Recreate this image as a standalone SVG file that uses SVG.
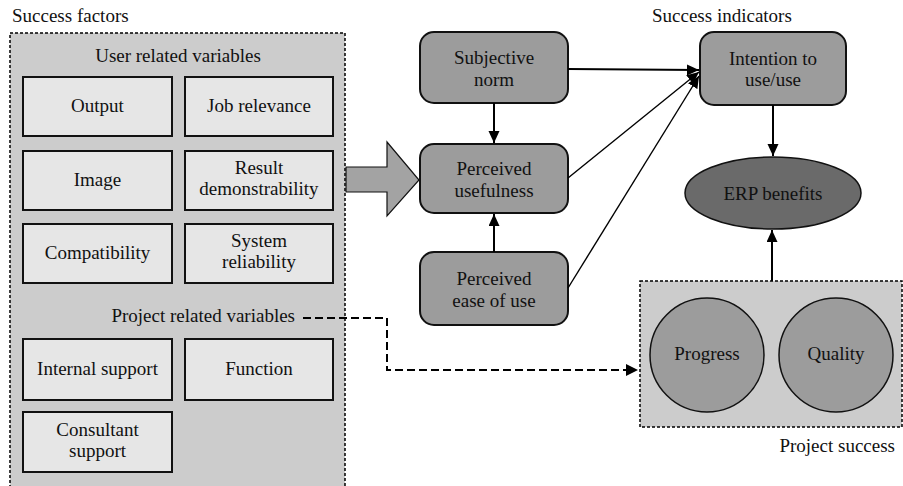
<svg xmlns="http://www.w3.org/2000/svg" width="903" height="486" viewBox="0 0 903 486" font-family="'Liberation Serif', 'DejaVu Serif', serif" font-size="19">
<style>
text{font-family:'Liberation Serif','DejaVu Serif',serif;font-size:19px;fill:#111;}
.c{text-anchor:middle;}
.panel{fill:#cccccc;stroke:#000;stroke-width:1.5;stroke-dasharray:3,2;}
.box{fill:#e6e6e6;stroke:#111;stroke-width:2;}
.rbox{fill:#9c9c9c;stroke:#111;stroke-width:2;}
.circ{fill:#9c9c9c;stroke:#111;stroke-width:1.5;}
.ell{fill:#6a6a6a;stroke:#111;stroke-width:1.5;}
.ln{stroke:#000;stroke-width:2;fill:none;}
.thin{stroke:#000;stroke-width:1.4;fill:none;}
.dash{stroke:#000;stroke-width:2;fill:none;stroke-dasharray:8,4;}
</style>
<defs>
<marker id="ah" markerUnits="userSpaceOnUse" markerWidth="13" markerHeight="12" refX="12" refY="5.5" orient="auto">
<path d="M0,0 L12,5.5 L0,11 z" fill="#000"/>
</marker>
</defs>

<text x="12" y="22">Success factors</text>
<text x="652" y="22">Success indicators</text>

<g id="success-factors">
<rect class="panel" x="10" y="33" width="335" height="470"/>
<text class="c" x="178" y="62">User related variables</text>
<text x="295" y="322" text-anchor="end">Project related variables</text>
</g>

<g id="output"><rect class="box" x="23" y="77" width="149" height="59"/><text class="c" x="97.5" y="112">Output</text></g>
<g id="job-relevance"><rect class="box" x="185" y="77" width="148" height="59"/><text class="c" x="259" y="112">Job relevance</text></g>
<g id="image"><rect class="box" x="23" y="151" width="149" height="59"/><text class="c" x="97.5" y="186">Image</text></g>
<g id="result-demonstrability"><rect class="box" x="185" y="151" width="148" height="59"/><text class="c" x="259" y="174">Result</text><text class="c" x="259" y="195">demonstrability</text></g>
<g id="compatibility"><rect class="box" x="23" y="224" width="149" height="59"/><text class="c" x="97.5" y="259">Compatibility</text></g>
<g id="system-reliability"><rect class="box" x="185" y="224" width="148" height="59"/><text class="c" x="259" y="247">System</text><text class="c" x="259" y="268">reliability</text></g>
<g id="internal-support"><rect class="box" x="23" y="339" width="149" height="61"/><text class="c" x="97.5" y="375">Internal support</text></g>
<g id="function"><rect class="box" x="185" y="339" width="148" height="61"/><text class="c" x="259" y="375">Function</text></g>
<g id="consultant-support"><rect class="box" x="23" y="412" width="149" height="60"/><text class="c" x="97.5" y="436">Consultant</text><text class="c" x="97.5" y="457">support</text></g>

<g id="big-arrow"><polygon points="346,167 387,167 387,142 419,180 387,216 387,192 346,192" fill="#a3a3a3" stroke="#111" stroke-width="1.2"/></g>

<g id="subjective-norm"><rect class="rbox" x="420" y="32" width="148" height="71" rx="14"/><text class="c" x="494" y="64">Subjective</text><text class="c" x="494" y="86">norm</text></g>
<g id="perceived-usefulness"><rect class="rbox" x="420" y="144" width="148" height="69" rx="14"/><text class="c" x="494" y="175">Perceived</text><text class="c" x="494" y="197">usefulness</text></g>
<g id="perceived-ease-of-use"><rect class="rbox" x="420" y="252" width="148" height="73" rx="14"/><text class="c" x="494" y="285">Perceived</text><text class="c" x="494" y="307">ease of use</text></g>
<g id="intention"><rect class="rbox" x="700" y="32" width="146" height="73" rx="14"/><text class="c" x="773" y="65">Intention to</text><text class="c" x="773" y="86">use/use</text></g>
<g id="erp-benefits"><ellipse class="ell" cx="773" cy="193" rx="88" ry="36"/><text class="c" x="773" y="200">ERP benefits</text></g>

<g id="project-success">
<rect class="panel" x="640" y="281" width="262" height="146"/>
<text x="895" y="452" text-anchor="end">Project success</text>
</g>
<g id="progress"><circle class="circ" cx="707" cy="355" r="57"/><text class="c" x="707" y="360">Progress</text></g>
<g id="quality"><circle class="circ" cx="836" cy="355" r="57"/><text class="c" x="836" y="360">Quality</text></g>

<g id="connectors">
<line class="ln" x1="494" y1="103" x2="494" y2="143" marker-end="url(#ah)"/>
<line class="ln" x1="494" y1="252" x2="494" y2="214" marker-end="url(#ah)"/>
<line class="ln" x1="568" y1="69" x2="699" y2="70" marker-end="url(#ah)"/>
<line class="thin" x1="568" y1="178" x2="699" y2="72" marker-end="url(#ah)"/>
<line class="thin" x1="568" y1="288" x2="699" y2="76" marker-end="url(#ah)"/>
<line class="ln" x1="773" y1="105" x2="773" y2="156" marker-end="url(#ah)"/>
<line class="ln" x1="772" y1="281" x2="772" y2="230" marker-end="url(#ah)"/>
<polyline class="dash" points="303,318 387,318 387,370 626,370"/>
<path d="M626,364 L638,370 L626,376 z" fill="#000"/>
</g>
</svg>
